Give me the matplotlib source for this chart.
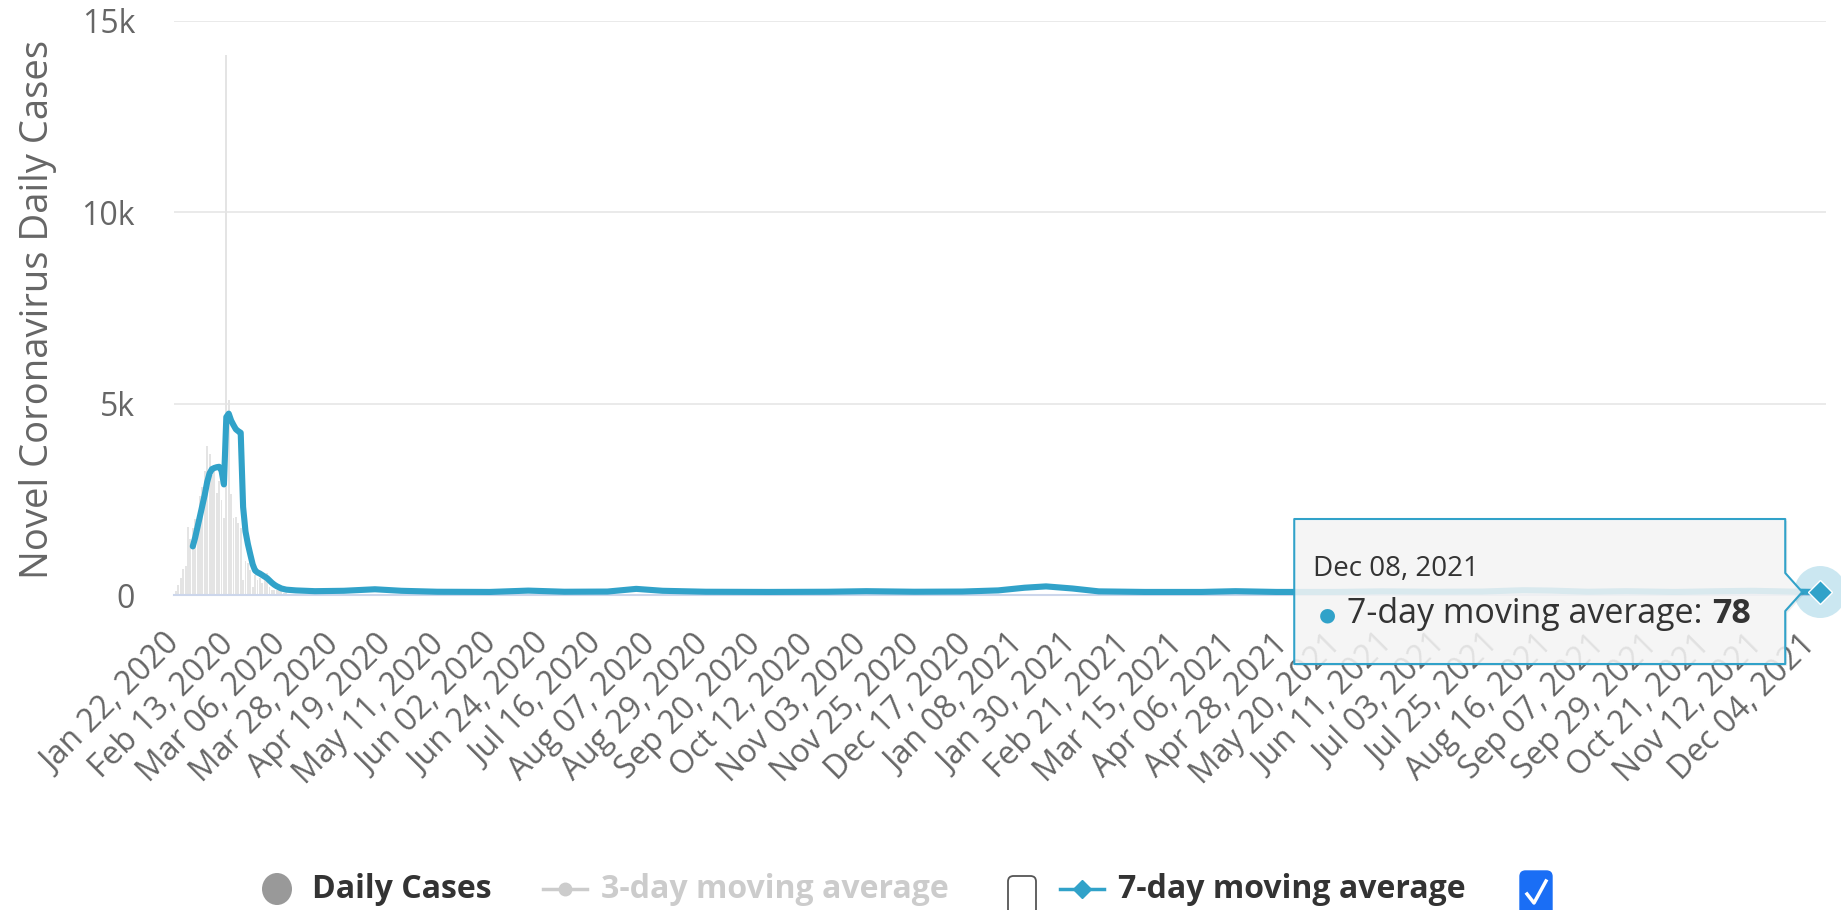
import matplotlib
matplotlib.use('Agg')
import matplotlib.pyplot as plt
import matplotlib.dates as mdates
from matplotlib.patches import Polygon, Ellipse, FancyBboxPatch
from matplotlib.lines import Line2D
import pandas as pd

plt.rcParams['font.family'] = ['Open Sans', 'DejaVu Sans']

W, H = 1841, 910

start_date = '2020-01-22'
end_date = '2021-12-08'

# daily new cases, Jan 22 - Mar 20 2020 (later bars are hidden under the line)
daily_cases = [95, 260, 450, 690, 770, 1770, 1460, 1740, 1980, 2100,
               2590, 2830, 3235, 3885, 3695, 3145, 3385, 2655, 2975, 2470,
               2015, 14108, 5090, 2640, 2010, 2050, 1890, 1750, 390, 890,
               825, 650, 215, 510, 405, 435, 325, 430, 575, 200,
               125, 120, 140, 145, 100, 45, 40, 20, 25, 15,
               10, 10, 20, 15, 20, 15, 35, 40, 40]

# 7-day moving average
ma7_dates = ['2020-01-29', '2020-01-30', '2020-01-31', '2020-02-01', '2020-02-02',
             '2020-02-03', '2020-02-04', '2020-02-05', '2020-02-06', '2020-02-07',
             '2020-02-08', '2020-02-09', '2020-02-10', '2020-02-11', '2020-02-12',
             '2020-02-13', '2020-02-14', '2020-02-15', '2020-02-16', '2020-02-17',
             '2020-02-18', '2020-02-19', '2020-02-20', '2020-02-21', '2020-02-22',
             '2020-02-23', '2020-02-24', '2020-02-25', '2020-02-26', '2020-02-27',
             '2020-02-28', '2020-02-29', '2020-03-01', '2020-03-02', '2020-03-03',
             '2020-03-04', '2020-03-05', '2020-03-06', '2020-03-08', '2020-03-12',
             '2020-03-20', '2020-04-01', '2020-04-14', '2020-04-25', '2020-05-10',
             '2020-06-01', '2020-06-17', '2020-07-02', '2020-07-20', '2020-08-01',
             '2020-08-12', '2020-08-30', '2020-09-25', '2020-10-20', '2020-11-05',
             '2020-11-25', '2020-12-15', '2020-12-30', '2021-01-10', '2021-01-19',
             '2021-01-30', '2021-02-10', '2021-03-01', '2021-03-25', '2021-04-08',
             '2021-04-25', '2021-05-20', '2021-06-08', '2021-06-30', '2021-07-20',
             '2021-08-06', '2021-08-18', '2021-09-02', '2021-09-18', '2021-10-08',
             '2021-10-28', '2021-11-10', '2021-11-25', '2021-12-08']
ma7_values = [1270, 1500, 1780, 2060, 2340,
              2620, 2950, 3180, 3290, 3320,
              3340, 3350, 3250, 2890, 4650,
              4740, 4560, 4440, 4330, 4280,
              4240, 2300, 1660, 1330, 1060,
              800, 640, 590, 560, 520,
              480, 440, 380, 320, 270,
              230, 200, 170, 140, 120,
              100, 110, 150, 110, 85,
              80, 115, 85, 90, 160,
              110, 85, 80, 85, 100,
              85, 90, 120, 190, 225,
              170, 95, 80, 80, 100,
              80, 80, 95, 85, 90,
              125, 115, 85, 100, 80,
              100, 110, 90, 78]

y_ticks = [0, 5000, 10000, 15000]
y_tick_labels = ['0', '5k', '10k', '15k']
tick_step = '22D'

blue = '#31a2c9'

fig = plt.figure(figsize=(W / 100, H / 100), dpi=100)
ax = fig.add_axes([174 / W, 1 - 595 / H, (1826 - 174) / W, (595 - 21) / H])

t0 = pd.Timestamp(start_date)
t1 = pd.Timestamp(end_date)

bar_dates = pd.date_range(start_date, periods=len(daily_cases), freq='D')
ax.bar(bar_dates, daily_cases, width=0.8, color='#e4e4e4', zorder=1)
ax.plot(pd.to_datetime(ma7_dates), ma7_values, color=blue, lw=4.4,
        solid_joinstyle='round', solid_capstyle='round', zorder=3)

ax.set_xlim(t0 - pd.Timedelta(days=0.83), t1 + pd.Timedelta(days=2.4))
ax.set_ylim(0, 15000)

ax.set_xticks(pd.date_range(start_date, end_date, freq=tick_step))
ax.xaxis.set_major_formatter(mdates.DateFormatter('%b %d, %Y'))
ax.set_yticks(y_ticks)
ax.set_yticklabels(y_tick_labels)

ax.tick_params(axis='x', length=0, pad=32, labelsize=23, labelcolor='#666666',
               labelrotation=45)
plt.setp(ax.get_xticklabels(), ha='right', va='center', rotation_mode='anchor')
ax.tick_params(axis='y', length=0, pad=28, labelsize=23, labelcolor='#666666')

ax.yaxis.grid(True, color='#e6e6e6', lw=1.2)
ax.set_axisbelow(True)
for s in ['top', 'right', 'left']:
    ax.spines[s].set_visible(False)
ax.spines['bottom'].set_color('#ccd6eb')
ax.spines['bottom'].set_linewidth(1.5)
ax.spines['bottom'].set_zorder(2)

fig.text(38.5 / W, 1 - 309 / H, 'Novel Coronavirus Daily Cases', rotation=90,
         fontsize=27.5, color='#666666', ha='center', va='center')


def f(x, y):
    # pixel from top-left -> figure fraction
    return x / W, 1 - y / H


# tooltip on the last point
px, py = ax.transData.transform((mdates.date2num(t1), ma7_values[-1]))
X, Y = px, H - py

left, right, top, bottom = X - 526, X - 35, Y - 73, Y + 72
tip = X - 18
box = [(left, top), (right, top), (right, Y - 19), (tip, Y), (right, Y + 19),
       (right, bottom), (left, bottom)]

shadow = Polygon([f(x + 2, y + 2) for x, y in box], closed=True,
                 transform=fig.transFigure, facecolor=(0, 0, 0, 0.07),
                 edgecolor='none', zorder=9)
fig.add_artist(shadow)
fig.add_artist(Ellipse(f(X, Y), 52 / W, 52 / H, transform=fig.transFigure,
                       facecolor=blue, alpha=0.25, edgecolor='none', zorder=9))
tooltip = Polygon([f(x, y) for x, y in box], closed=True, transform=fig.transFigure,
                  facecolor=(0.97, 0.97, 0.97, 0.86), edgecolor=blue, lw=1.5,
                  joinstyle='round', zorder=10)
fig.add_artist(tooltip)
fig.add_artist(Line2D([X / W], [1 - Y / H], marker='D', ms=12, color=blue,
                      mec='white', mew=1, transform=fig.transFigure, zorder=11))

fig.text(*f(X - 507, Y - 23), t1.strftime('%b %d, %Y'), fontsize=20,
         color='#333333', ha='left', va='center', zorder=12)
fig.text(*f(X - 493, Y + 23), '\u25CF', fontsize=14, color=blue,
         ha='center', va='center', zorder=12)
lbl = fig.text(*f(X - 473, Y + 22), '7-day moving average:', fontsize=24.5,
               color='#333333', ha='left', va='center', zorder=12)
renderer = fig.canvas.get_renderer()
x_end = lbl.get_window_extent(renderer).x1
fig.text((x_end + 9) / W, 1 - (Y + 22) / H, f'{ma7_values[-1]}', fontsize=24.5,
         weight='bold', color='#333333', ha='left', va='center', zorder=12)

# legend along the bottom
ly = 889
fig.add_artist(Ellipse(f(277, ly), 30 / W, 32 / H, transform=fig.transFigure,
                       facecolor='#999999', edgecolor='none'))
fig.text(*f(312, ly + 1), 'Daily Cases', fontsize=23, weight='bold',
         color='#333333', ha='left', va='center')

fig.add_artist(Line2D([543 / W, 587 / W], [1 - ly / H] * 2, color='#cccccc', lw=2.5,
                      transform=fig.transFigure))
fig.add_artist(Line2D([565 / W], [1 - ly / H], marker='o', ms=9, color='#cccccc',
                      transform=fig.transFigure))
fig.text(*f(601, ly + 1), '3-day moving average', fontsize=23, weight='bold',
         color='#cccccc', ha='left', va='center')

fig.add_artist(FancyBboxPatch(f(1008, 915), 28 / W, 39 / H,
                              boxstyle='round,pad=0,rounding_size=0.003',
                              mutation_aspect=W / H, transform=fig.transFigure,
                              facecolor='white', edgecolor='#555555', lw=1.3))

fig.add_artist(Line2D([1060 / W, 1104 / W], [1 - ly / H] * 2, color=blue, lw=2.5,
                      transform=fig.transFigure))
fig.add_artist(Line2D([1082 / W], [1 - ly / H], marker='D', ms=9, color=blue,
                      transform=fig.transFigure))
fig.text(*f(1118, ly + 1), '7-day moving average', fontsize=23, weight='bold',
         color='#333333', ha='left', va='center')

fig.add_artist(FancyBboxPatch(f(1520, 916), 32 / W, 45 / H,
                              boxstyle='round,pad=0,rounding_size=0.003',
                              mutation_aspect=W / H, transform=fig.transFigure,
                              facecolor='#1a6ef5', edgecolor='#1a6ef5', lw=1))
chk = [f(1527, 894), f(1534, 903), f(1546, 881)]
fig.add_artist(Line2D([p[0] for p in chk], [p[1] for p in chk], color='white', lw=2.5,
                      transform=fig.transFigure))

fig.savefig('out.png', dpi=100)
